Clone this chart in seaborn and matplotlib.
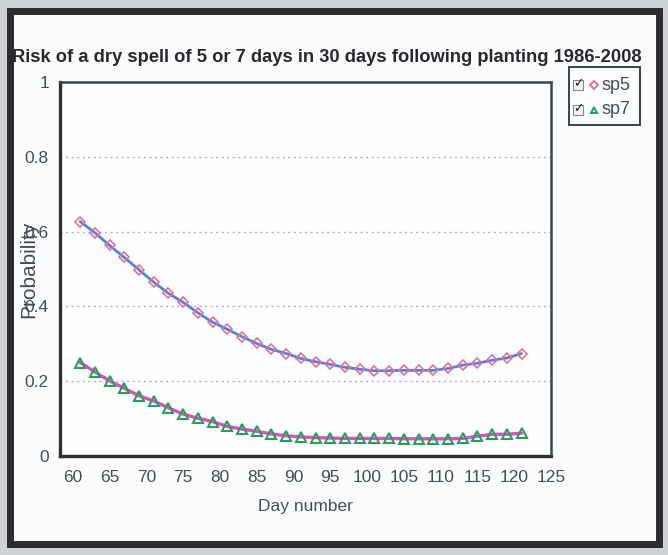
import matplotlib
matplotlib.use("Agg")
import matplotlib.pyplot as plt
from matplotlib import font_manager
from matplotlib.patches import Rectangle
from matplotlib.lines import Line2D
import seaborn as sns
import pandas as pd

days = [61, 63, 65, 67, 69, 71, 73, 75, 77, 79, 81, 83, 85, 87, 89, 91,
        93, 95, 97, 99, 101, 103, 105, 107, 109, 111, 113, 115, 117, 119, 121]
sp5 = [0.627, 0.597, 0.563, 0.531, 0.498, 0.465, 0.435, 0.411, 0.383, 0.358,
       0.339, 0.319, 0.301, 0.285, 0.274, 0.261, 0.252, 0.245, 0.237, 0.232,
       0.228, 0.228, 0.229, 0.229, 0.229, 0.234, 0.243, 0.248, 0.256, 0.262,
       0.274]
sp7 = [0.250, 0.225, 0.201, 0.181, 0.161, 0.147, 0.129, 0.112, 0.101, 0.092,
       0.079, 0.072, 0.066, 0.059, 0.054, 0.051, 0.049, 0.048, 0.047, 0.047,
       0.047, 0.047, 0.046, 0.046, 0.046, 0.046, 0.047, 0.053, 0.058, 0.058,
       0.061]
series_names = ["sp5", "sp7"]
xticks = [60, 65, 70, 75, 80, 85, 90, 95, 100, 105, 110, 115, 120, 125]
yticks = [0, 0.2, 0.4, 0.6, 0.8, 1]
ytick_labels = ["0", "0.2", "0.4", "0.6", "0.8", "1"]
title = "Risk of a dry spell of 5 or 7 days in 30 days following planting 1986-2008"

sns.set_theme(style="white")
names = {f.name for f in font_manager.fontManager.ttflist}
narrow = "Liberation Sans Narrow" if "Liberation Sans Narrow" in names else "Liberation Sans"
plt.rcParams["font.family"] = [narrow, "DejaVu Sans"]

W, H = 668, 555
fig = plt.figure(figsize=(W / 100, H / 100), dpi=100)
fig.patch.set_facecolor("#cdd1d5")

# outer scanned frame
fig.patches.append(Rectangle((10 / W, 1 - 544 / H), 648.5 / W, (544 - 10.5) / H,
                             transform=fig.transFigure, facecolor="#fbfcfd",
                             edgecolor="#2c2c2e", linewidth=5, zorder=-5))

ax = fig.add_axes([60 / W, 1 - 456 / H, 491 / W, 374 / H])
ax.set_facecolor("#fdfeff")

df5 = pd.DataFrame({"day": days, "p": sp5})
df7 = pd.DataFrame({"day": days, "p": sp7})
sns.lineplot(data=df5, x="day", y="p", ax=ax, color="#4d83e6", lw=2.0,
             marker="D", markersize=5.5, markerfacecolor="none",
             markeredgecolor="#ea7088", markeredgewidth=1.2, zorder=3)
sns.lineplot(data=df7, x="day", y="p", ax=ax, color="#e04cc8", lw=2.4,
             marker="^", markersize=6.5, markerfacecolor="none",
             markeredgecolor="#27a055", markeredgewidth=1.5, zorder=3)

ax.set_xlim(58.27, 125)
ax.set_ylim(0, 1)
ax.set_xticks(xticks)
ax.set_yticks(yticks)
ax.set_yticklabels(ytick_labels)
ax.tick_params(axis="both", labelsize=12.5, labelcolor="#454b57")
ax.tick_params(axis="x", direction="out", length=4, width=1, color="#8890a0", pad=6)
ax.tick_params(axis="y", direction="out", length=0, pad=8)
for y in [0.2, 0.4, 0.6, 0.8]:
    ax.axhline(y, color="#aab2c2", lw=1.0, ls=(0, (1.5, 2.5)), zorder=1)

for side in ["left", "bottom"]:
    ax.spines[side].set_color("#2e3034")
    ax.spines[side].set_linewidth(2.4)
for side in ["top", "right"]:
    ax.spines[side].set_color("#3c4250")
    ax.spines[side].set_linewidth(1.8)

ax.set_xlabel("Day number", fontsize=12.5, color="#454b57")
ax.set_ylabel("Probability", fontsize=15, color="#454b57")
ax.xaxis.set_label_coords(0.5, -0.115)
ax.yaxis.set_label_coords(-0.045, 0.5)

fig.text(326.5 / W, 1 - 57 / H, title, ha="center", va="center",
         fontsize=13.2, fontweight="bold", color="#26282c")

# legend box (checkbox, marker, label)
fig.patches.append(Rectangle((569 / W, 1 - 125 / H), 71 / W, 58 / H,
                             transform=fig.transFigure, facecolor="#fdfeff",
                             edgecolor="#3a4050", linewidth=1.4, zorder=5))
rows = [(85, "D", "#ea7088", 4.5), (110, "^", "#27a055", 5)]
for (yc, mk, mc, ms), name in zip(rows, series_names):
    fig.patches.append(Rectangle((573 / W, 1 - (yc + 5) / H), 10 / W, 10 / H,
                                 transform=fig.transFigure, facecolor="#f4f4f4",
                                 edgecolor="#808890", linewidth=0.8, zorder=6))
    fig.text(578 / W, 1 - (yc - 1) / H, "\u2713", ha="center", va="center",
             fontsize=9, color="#202020", family="DejaVu Sans", zorder=7)
    fig.lines.append(Line2D([594 / W], [1 - yc / H], transform=fig.transFigure,
                            marker=mk, markersize=ms, markerfacecolor="none",
                            markeredgecolor=mc, markeredgewidth=1.4, zorder=7))
    fig.text(602 / W, 1 - yc / H, name, ha="left", va="center",
             fontsize=13, color="#454b57", zorder=7)

fig.savefig("out.png", dpi=100, facecolor=fig.get_facecolor())
